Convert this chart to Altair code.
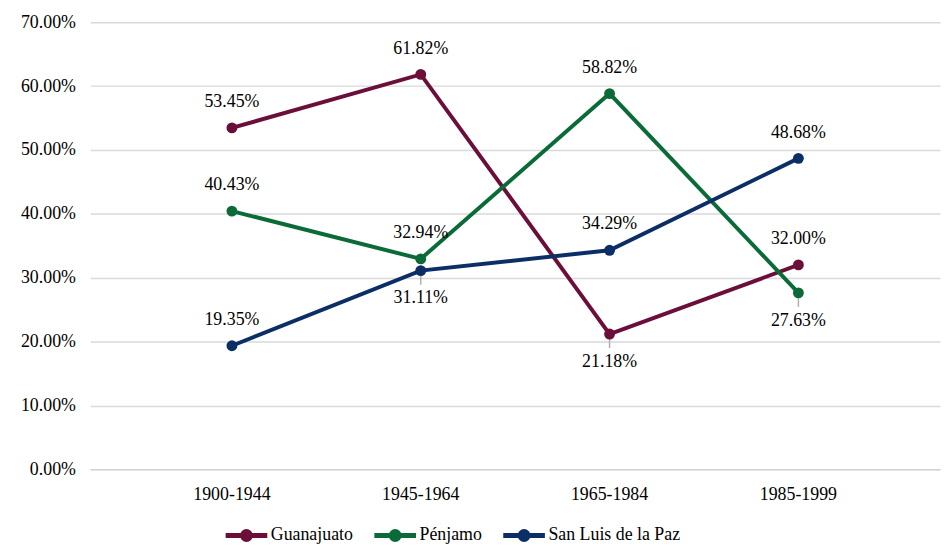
import altair as alt
import pandas as pd

periods = ["1900-1944", "1945-1964", "1965-1984", "1985-1999"]
series = ["Guanajuato", "Pénjamo", "San Luis de la Paz"]
guanajuato = [0.5345, 0.6182, 0.2118, 0.3200]
penjamo = [0.4043, 0.3294, 0.5882, 0.2763]
sanluis = [0.1935, 0.3111, 0.3429, 0.4868]
# label placement relative to point
guanajuato_pos = ["above", "above", "below", "above"]
penjamo_pos = ["above", "above", "above", "below"]
sanluis_pos = ["above", "below", "above", "above"]
colors = ["#6B0F3A", "#0B6B38", "#0C2E66"]

rows = []
for name, vals, pos in zip(series, [guanajuato, penjamo, sanluis],
                           [guanajuato_pos, penjamo_pos, sanluis_pos]):
    for p, v, ps in zip(periods, vals, pos):
        rows.append({"period": p, "series": name, "value": v, "pos": ps})
df = pd.DataFrame(rows)

FONT = "Times New Roman"

# legend glyph: a stroked line with a (stroke-filled) dot in the middle
GLYPH = ("M-2.1,0 L2.1,0 "
         "M-0.4,0 A0.4,0.4 0 1,0 0.4,0 A0.4,0.4 0 1,0 -0.4,0 "
         "M-0.1,0 A0.1,0.1 0 1,0 0.1,0 A0.1,0.1 0 1,0 -0.1,0")

x = alt.X("period:N", sort=periods, title=None,
          scale=alt.Scale(padding=0.5),
          axis=alt.Axis(labelAngle=0, labelFontSize=18, labelFont=FONT, labelColor="#000",
                        ticks=False, domainColor="#d0d0d0", labelPadding=16, grid=False))
y = alt.Y("value:Q", title=None,
          scale=alt.Scale(domain=[0, 0.7]),
          axis=alt.Axis(format=".2%", values=[0, 0.1, 0.2, 0.3, 0.4, 0.5, 0.6, 0.7],
                        labelFontSize=18, labelFont=FONT, labelColor="#000",
                        ticks=False, domain=False, gridColor="#d9d9d9", gridWidth=1.5,
                        labelPadding=15))
color = alt.Color("series:N", sort=series,
                  scale=alt.Scale(domain=series, range=colors),
                  legend=alt.Legend(title=None, orient="none", direction="horizontal",
                                    legendX=145, legendY=505,
                                    labelFont=FONT, labelFontSize=18, labelColor="#000",
                                    symbolType=GLYPH, symbolSize=400,
                                    symbolStrokeWidth=5, symbolOpacity=1,
                                    columnPadding=11, labelOffset=12))

base = alt.Chart(df)
lines = base.mark_line(strokeWidth=4).encode(x=x, y=y, color=color)
points = base.mark_circle(size=120, opacity=1).encode(x=x, y=y, color=color)

leaders = base.transform_calculate(lo="datum.value - 0.022").transform_filter(
    alt.datum.pos == "below").mark_rule(color="#b0b0b0", strokeWidth=1.5).encode(
    x=x, y=y, y2=alt.Y2("lo:Q"))

above = base.transform_filter(alt.datum.pos == "above").mark_text(
    dy=-26, font=FONT, fontSize=18, color="#000").encode(
    x=x, y=y, text=alt.Text("value:Q", format=".2%"))
below = base.transform_filter(alt.datum.pos == "below").mark_text(
    dy=28, font=FONT, fontSize=18, color="#000").encode(
    x=x, y=y, text=alt.Text("value:Q", format=".2%"))

chart = alt.layer(leaders, lines, points, above, below).properties(
    width=857, height=451,
    autosize=alt.AutoSizeParams(type="none"),
    padding={"left": 83, "right": 3, "top": 12, "bottom": 73},
).configure(font=FONT).configure_view(stroke=None).configure_legend(
    padding=0, labelFont=FONT).configure_text(font=FONT)

chart.save("out.html", embed_options={"renderer": "svg", "actions": False})
